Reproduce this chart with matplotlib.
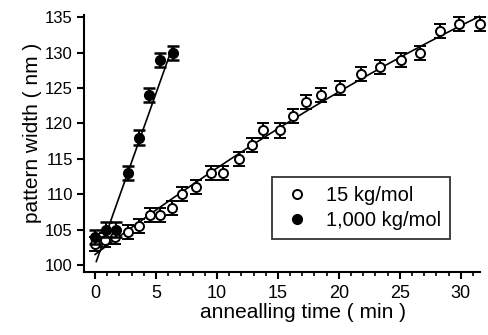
import numpy as np
import matplotlib
matplotlib.use("Agg")
import matplotlib.pyplot as plt
from matplotlib.ticker import MultipleLocator

plt.rcParams['font.family'] = ['Liberation Sans', 'DejaVu Sans']

# 15 kg/mol (open circles)
t_15 = [0.0, 0.8, 1.6, 2.7, 3.6, 4.5, 5.3, 6.3, 7.1, 8.3, 9.5, 10.5, 11.8, 12.9,
        13.8, 15.2, 16.2, 17.3, 18.5, 20.1, 21.8, 23.4, 25.1, 26.7, 28.3, 29.9, 31.6]
w_15 = [103.0, 103.5, 104.0, 104.7, 105.5, 107.0, 107.0, 108.0, 110.0, 111.0, 113.0, 113.0,
        115.0, 117.0, 119.0, 119.0, 121.0, 123.0, 124.0, 125.0, 127.0, 128.0, 129.0, 130.0,
        133.0, 134.0, 134.0]

# 1,000 kg/mol (filled circles)
t_1000 = [0.0, 0.9, 1.7, 2.7, 3.6, 4.4, 5.3, 6.4]
w_1000 = [104.0, 105.0, 105.0, 113.0, 118.0, 124.0, 129.0, 130.0]

err = 1.0

# fit lines
fit_1000 = [4.85, 100.0]          # slope, intercept
fit_1000_range = [0.1, 6.3]
fit_15_range = [0.0, 31.6]

fig = plt.figure(figsize=(4.89, 3.35), dpi=100)
ax = fig.add_axes([0.172, 0.188, 0.81, 0.767])

# curve through the 15 kg/mol data
p15 = np.polyfit(t_15, w_15, 2)
tt = np.linspace(fit_15_range[0], fit_15_range[1], 200)
ax.plot(tt, np.polyval(p15, tt), color='black', lw=1.2, zorder=2)

tt2 = np.linspace(fit_1000_range[0], fit_1000_range[1], 50)
ax.plot(tt2, np.polyval(fit_1000, tt2), color='black', lw=1.2, zorder=2)

ax.errorbar(t_15, w_15, yerr=err, fmt='o', ms=6.5, mfc='white', mec='black', mew=1.4,
            ecolor='black', elinewidth=1.4, capsize=4.5, capthick=1.8, zorder=3,
            label='15 kg/mol', clip_on=False)
ax.errorbar(t_1000, w_1000, yerr=err, fmt='o', ms=7, mfc='black', mec='black',
            ecolor='black', elinewidth=1.4, capsize=4.5, capthick=1.8, zorder=4,
            label='1,000 kg/mol', clip_on=False)

ax.set_xlim(-0.9, 31.6)
ax.set_ylim(99.0, 135.3)
ax.set_yticks([100, 105, 110, 115, 120, 125, 130, 135])
ax.set_xticks([0, 5, 10, 15, 20, 25, 30])
ax.xaxis.set_minor_locator(MultipleLocator(1))

for s in ['top', 'right']:
    ax.spines[s].set_visible(False)
for s in ['left', 'bottom']:
    ax.spines[s].set_linewidth(1.5)

ax.tick_params(axis='both', which='major', direction='out', length=5, width=1.5, pad=3)
ax.tick_params(axis='y', which='major', labelsize=12)
ax.tick_params(axis='x', which='major', labelsize=13, pad=4)
ax.tick_params(axis='x', which='minor', direction='out', length=3, width=1.2)

ax.set_xlabel('annealling time ( min )', fontsize=15, labelpad=1, x=0.553)
ax.set_ylabel('pattern width ( nm )', fontsize=15, labelpad=2, y=0.54)

handles, labels = ax.get_legend_handles_labels()
handles = [h[0] for h in handles]
leg = ax.legend(handles, labels, loc='upper left', bbox_to_anchor=(0.475, 0.37),
                frameon=True, fancybox=False, edgecolor='black', fontsize=14.5,
                handletextpad=0.6, borderpad=0.45, labelspacing=0.3, handlelength=1.6,
                borderaxespad=0)
leg.get_frame().set_linewidth(1.3)

fig.savefig('out.png', dpi=100)
